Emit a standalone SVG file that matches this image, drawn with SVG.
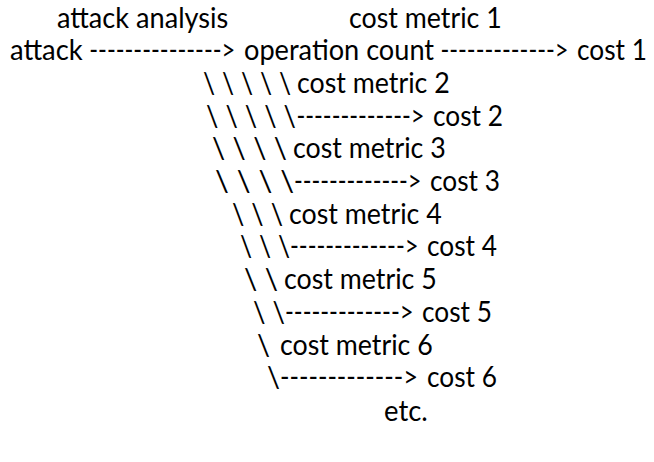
<svg xmlns="http://www.w3.org/2000/svg" width="654" height="462" viewBox="0 0 654 462">
  <style>
    text { font-family: Lato, "Open Sans", "Liberation Sans", sans-serif; font-size: 28px; fill: #000; white-space: pre; }
  </style>
  <rect width="654" height="462" fill="#fff"/>

  <!-- labels over the first arrows -->
  <g id="labels">
    <text x="57" y="27.5" textLength="171.3" lengthAdjust="spacingAndGlyphs">attack analysis</text>
    <text x="349" y="27.5" textLength="152.8" lengthAdjust="spacingAndGlyphs">cost metric 1</text>
    <text x="297" y="92.9" textLength="152.8" lengthAdjust="spacingAndGlyphs">cost metric 2</text>
    <text x="293" y="158.3" textLength="152.8" lengthAdjust="spacingAndGlyphs">cost metric 3</text>
    <text x="289" y="223.7" textLength="152.8" lengthAdjust="spacingAndGlyphs">cost metric 4</text>
    <text x="284" y="289.1" textLength="152.8" lengthAdjust="spacingAndGlyphs">cost metric 5</text>
    <text x="280" y="354.5" textLength="152.8" lengthAdjust="spacingAndGlyphs">cost metric 6</text>
    <text x="384" y="420.5" textLength="43.7" lengthAdjust="spacingAndGlyphs">etc.</text>
  </g>

  <!-- nodes -->
  <g id="node-attack">
    <text x="10" y="60.2" textLength="72.7" lengthAdjust="spacingAndGlyphs">attack</text>
  </g>
  <g id="node-operation-count">
    <text x="244" y="60.2" textLength="190.1" lengthAdjust="spacingAndGlyphs">operation count</text>
  </g>
  <g id="node-cost-1">
    <text x="577" y="60.2" textLength="69.9" lengthAdjust="spacingAndGlyphs">cost 1</text>
  </g>
  <g id="node-cost-2">
    <text x="433" y="125.6" textLength="69.9" lengthAdjust="spacingAndGlyphs">cost 2</text>
  </g>
  <g id="node-cost-3">
    <text x="430" y="191" textLength="69.9" lengthAdjust="spacingAndGlyphs">cost 3</text>
  </g>
  <g id="node-cost-4">
    <text x="427" y="256.4" textLength="69.9" lengthAdjust="spacingAndGlyphs">cost 4</text>
  </g>
  <g id="node-cost-5">
    <text x="422" y="321.8" textLength="69.9" lengthAdjust="spacingAndGlyphs">cost 5</text>
  </g>
  <g id="node-cost-6">
    <text x="427" y="387.2" textLength="69.9" lengthAdjust="spacingAndGlyphs">cost 6</text>
  </g>

  <!-- text-drawn connectors: dashed arrows and backslash branches -->
  <g id="connectors">
    <text x="89.3" y="60.2" textLength="146" lengthAdjust="spacingAndGlyphs">---------------&gt;</text>
    <text x="440.5" y="60.2" textLength="128" lengthAdjust="spacingAndGlyphs">-------------&gt;</text>

    <text x="203" y="92.9" textLength="88" lengthAdjust="spacingAndGlyphs">\ \ \ \ \</text>
    <text x="206" y="125.6" textLength="90" lengthAdjust="spacingAndGlyphs">\ \ \ \ \</text>
    <text x="296.5" y="125.6" textLength="128" lengthAdjust="spacingAndGlyphs">-------------&gt;</text>

    <text x="212" y="158.3" textLength="75" lengthAdjust="spacingAndGlyphs">\ \ \ \</text>
    <text x="215" y="191" textLength="79" lengthAdjust="spacingAndGlyphs">\ \ \ \</text>
    <text x="294" y="191" textLength="127.5" lengthAdjust="spacingAndGlyphs">-------------&gt;</text>

    <text x="232" y="223.7" textLength="51" lengthAdjust="spacingAndGlyphs">\ \ \</text>
    <text x="240" y="256.4" textLength="50" lengthAdjust="spacingAndGlyphs">\ \ \</text>
    <text x="290" y="256.4" textLength="128.5" lengthAdjust="spacingAndGlyphs">-------------&gt;</text>

    <text x="244" y="289.1" textLength="34" lengthAdjust="spacingAndGlyphs">\ \</text>
    <text x="253" y="321.8" textLength="32" lengthAdjust="spacingAndGlyphs">\ \</text>
    <text x="285" y="321.8" textLength="128.5" lengthAdjust="spacingAndGlyphs">-------------&gt;</text>

    <text x="257" y="354.5" textLength="13" lengthAdjust="spacingAndGlyphs">\</text>
    <text x="267" y="387.2" textLength="13" lengthAdjust="spacingAndGlyphs">\</text>
    <text x="280" y="387.2" textLength="138" lengthAdjust="spacingAndGlyphs">-------------&gt;</text>
  </g>
</svg>
